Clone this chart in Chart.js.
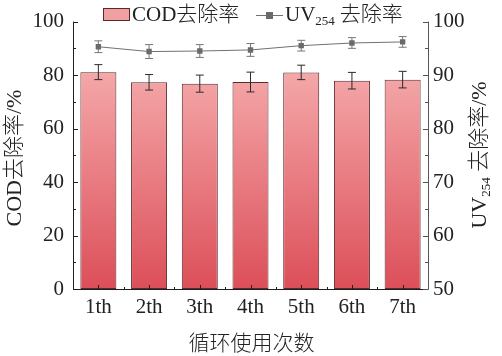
<!DOCTYPE html>
<html>
<head>
<meta charset="utf-8">
<script src="https://cdn.jsdelivr.net/npm/chart.js@4/dist/chart.umd.min.js"></script>
<style>
html,body{margin:0;padding:0;background:#fff;}
canvas{display:block;}
</style>
</head>
<body>
<canvas id="c" width="502" height="356"></canvas>
<script>
const categories = ['1th','2th','3th','4th','5th','6th','7th'];
const codRemoval = [81.1, 77.3, 76.8, 77.4, 81.0, 77.9, 78.3];
const codError   = [2.8, 2.9, 3.2, 3.7, 2.7, 3.1, 3.1];
const uvRemoval  = [95.3, 94.4, 94.5, 94.7, 95.5, 96.0, 96.2];
const uvError    = [1.1, 1.3, 1.2, 1.2, 1.0, 1.0, 1.0];
const leftTicks  = [0, 20, 40, 60, 80, 100];
const rightTicks = [50, 60, 70, 80, 90, 100];

const LATIN = '"Liberation Serif", "Times New Roman", "Noto Sans CJK SC", serif';
const TXT = '#222';

function barGradient(ctx){
  const ca = ctx.chart.chartArea;
  if(!ca) return '#e57b80';
  const g = ctx.chart.ctx.createLinearGradient(0, ca.top, 0, ca.bottom);
  g.addColorStop(0, '#f8b9ba');
  g.addColorStop(0.2, '#f4a6a8');
  g.addColorStop(1, '#dc4f59');
  return g;
}

function drawErr(ctx, x, yTop, yBot, cap, color){
  ctx.save();
  ctx.strokeStyle = color; ctx.lineWidth = 1;
  ctx.beginPath();
  ctx.moveTo(x, yTop); ctx.lineTo(x, yBot);
  ctx.moveTo(x - cap, yTop); ctx.lineTo(x + cap, yTop);
  ctx.moveTo(x - cap, yBot); ctx.lineTo(x + cap, yBot);
  ctx.stroke();
  ctx.restore();
}

const customPlugin = {
  id: 'custom',
  afterDatasetDraw(chart, args){
    if(args.index !== 1) return;
    const ctx = chart.ctx, y = chart.scales.y;
    const meta = chart.getDatasetMeta(1);
    meta.data.forEach((el, i) => {
      drawErr(ctx, el.x, y.getPixelForValue(codRemoval[i] + codError[i]),
              y.getPixelForValue(codRemoval[i] - codError[i]), 4, '#2a2a2a');
    });
  },
  beforeDatasetDraw(chart, args){
    if(args.index !== 0) return;
    const ctx = chart.ctx, y1 = chart.scales.y1;
    const meta = chart.getDatasetMeta(0);
    meta.data.forEach((el, i) => {
      drawErr(ctx, el.x, y1.getPixelForValue(uvRemoval[i] + uvError[i]),
              y1.getPixelForValue(uvRemoval[i] - uvError[i]), 4, '#777');
    });
  },
  afterDraw(chart){
    const ctx = chart.ctx, ca = chart.chartArea;
    const x = chart.scales.x, y = chart.scales.y, y1 = chart.scales.y1;
    ctx.save();
    ctx.lineWidth = 1;
    ctx.strokeStyle = '#1e1e1e';
    ctx.beginPath();
    ctx.moveTo(ca.left + 0.5, ca.top); ctx.lineTo(ca.left + 0.5, ca.bottom + 0.5);
    ctx.lineTo(ca.right + 0.5, ca.bottom + 0.5);
    ctx.stroke();
    ctx.strokeStyle = '#555';
    ctx.beginPath();
    ctx.moveTo(ca.right + 0.5, ca.top); ctx.lineTo(ca.right + 0.5, ca.bottom + 0.5);
    ctx.stroke();
    ctx.strokeStyle = '#1e1e1e';
    ctx.beginPath();
    for(let v = 0; v <= 100; v += 10){
      const p = Math.round(y.getPixelForValue(v)) + 0.5;
      const len = (v % 20 === 0) ? 5 : 3;
      ctx.moveTo(ca.left, p); ctx.lineTo(ca.left + len, p);
    }
    ctx.stroke();
    ctx.strokeStyle = '#555';
    ctx.beginPath();
    for(let v = 50; v <= 100; v += 5){
      const p = Math.round(y1.getPixelForValue(v)) + 0.5;
      const len = (v % 10 === 0) ? 5 : 3;
      ctx.moveTo(ca.right, p); ctx.lineTo(ca.right - len, p);
    }
    ctx.stroke();
    ctx.strokeStyle = '#1e1e1e';
    ctx.beginPath();
    categories.forEach((c, i) => {
      const p = Math.round(x.getPixelForValue(i)) + 0.5;
      ctx.moveTo(p, ca.bottom); ctx.lineTo(p, ca.bottom - 4);
      if(i < categories.length - 1){
        const q = Math.round((x.getPixelForValue(i) + x.getPixelForValue(i + 1)) / 2) + 0.5;
        ctx.moveTo(q, ca.bottom); ctx.lineTo(q, ca.bottom - 2);
      }
    });
    ctx.stroke();

    ctx.fillStyle = TXT;
    ctx.font = '300 21px "Noto Sans CJK SC", sans-serif';
    ctx.textAlign = 'center'; ctx.textBaseline = 'middle';
    ctx.fillText('循环使用次数', (ca.left + ca.right) / 2 + 1, 342);

    ctx.save();
    ctx.translate(15, 158);
    ctx.rotate(-Math.PI / 2);
    ctx.font = '300 22px ' + LATIN;
    ctx.textAlign = 'center'; ctx.textBaseline = 'middle';
    ctx.fillText('COD去除率/%', 0, 0);
    ctx.restore();

    ctx.save();
    ctx.translate(480, 155);
    ctx.rotate(-Math.PI / 2);
    ctx.textBaseline = 'middle'; ctx.textAlign = 'left';
    const big = '300 22px ' + LATIN, small = '300 13px ' + LATIN;
    ctx.font = big; const w1 = ctx.measureText('UV').width;
    ctx.font = small; const w2 = ctx.measureText('254').width;
    ctx.font = big; const w3 = ctx.measureText(' 去除率/%').width;
    let sx = -(w1 + w2 + w3) / 2;
    ctx.font = big; ctx.fillText('UV', sx, 0); sx += w1;
    ctx.font = small; ctx.fillText('254', sx, 7); sx += w2;
    ctx.font = big; ctx.fillText(' 去除率/%', sx, 0);
    ctx.restore();

    const ly = 15;
    ctx.fillStyle = '#f0a0a3';
    ctx.fillRect(103, 8, 27, 13);
    ctx.strokeStyle = '#5a2a2a';
    ctx.strokeRect(103.5, 8.5, 26, 12);
    ctx.fillStyle = TXT;
    ctx.textAlign = 'left'; ctx.textBaseline = 'middle';
    ctx.font = '300 21px ' + LATIN;
    ctx.fillText('COD去除率', 132, ly);
    ctx.strokeStyle = '#707070';
    ctx.beginPath(); ctx.moveTo(256, ly + 0.5); ctx.lineTo(283, ly + 0.5); ctx.stroke();
    ctx.fillStyle = '#6a6a6a';
    ctx.fillRect(266, ly - 3, 7, 7);
    ctx.fillStyle = TXT;
    let lx = 285;
    ctx.font = '300 21px ' + LATIN; ctx.fillText('UV', lx, ly); lx += ctx.measureText('UV').width;
    ctx.font = '300 13px ' + LATIN; ctx.fillText('254', lx, ly + 7); lx += ctx.measureText('254').width + 5;
    ctx.font = '300 21px ' + LATIN; ctx.fillText('去除率', lx, ly);
    ctx.restore();
  }
};

new Chart(document.getElementById('c'), {
  data: {
    labels: categories,
    datasets: [
      {
        type: 'line', label: 'UV254 去除率', data: uvRemoval, yAxisID: 'y1', order: 0,
        borderColor: '#707070', borderWidth: 1, backgroundColor: '#6a6a6a',
        pointStyle: 'rect', pointRadius: 3.8, pointBorderWidth: 0, tension: 0
      },
      {
        type: 'bar', label: 'COD去除率', data: codRemoval, yAxisID: 'y', order: 1,
        backgroundColor: barGradient, borderColor: '#5a2a2a', borderWidth: 1,
        barPercentage: 0.71, categoryPercentage: 1.0, borderSkipped: false
      }
    ]
  },
  options: {
    responsive: false, animation: false, devicePixelRatio: 1,
    layout: { padding: { top: 14, left: 0, right: 0, bottom: 0 } },
    plugins: { legend: { display: false }, tooltip: { enabled: false } },
    scales: {
      x: {
        grid: { display: false, drawTicks: false }, border: { display: false },
        ticks: { color: TXT, font: { family: LATIN, size: 21 }, padding: 6, maxRotation: 0 },
        afterFit(s){ s.height = 67; }
      },
      y: {
        position: 'left', min: 0, max: 100,
        afterBuildTicks(s){ s.ticks = leftTicks.map(v => ({ value: v })); },
        grid: { display: false, drawTicks: false }, border: { display: false },
        ticks: { color: TXT, font: { family: LATIN, size: 21 }, padding: 9 },
        afterFit(s){ s.width = 73; }
      },
      y1: {
        position: 'right', min: 50, max: 100,
        afterBuildTicks(s){ s.ticks = rightTicks.map(v => ({ value: v })); },
        grid: { display: false, drawTicks: false }, border: { display: false },
        ticks: { color: TXT, font: { family: LATIN, size: 21 }, padding: 5 },
        afterFit(s){ s.width = 74; }
      }
    }
  },
  plugins: [customPlugin]
});
</script>
</body>
</html>
